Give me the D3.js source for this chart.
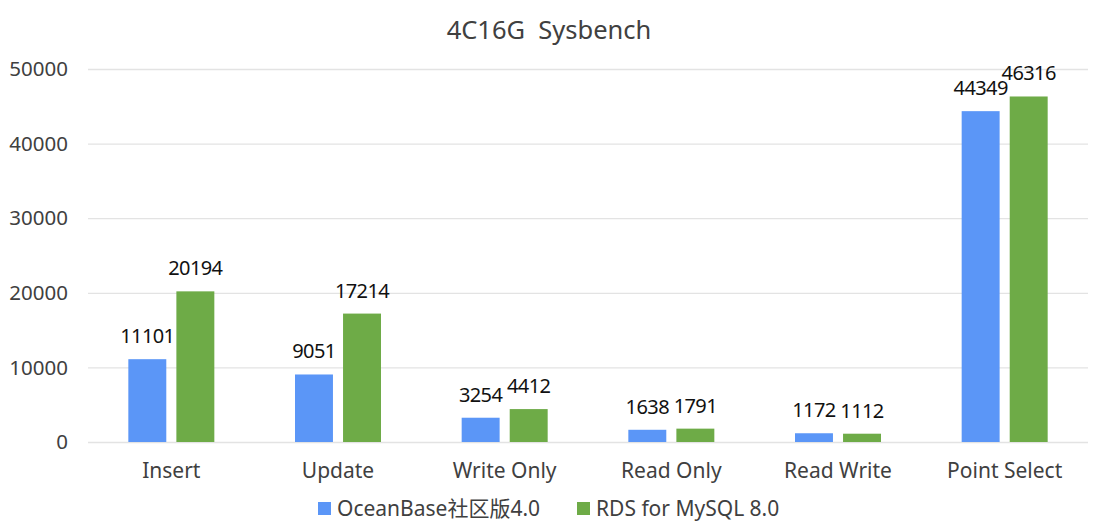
<!DOCTYPE html>
<html>
<head>
<meta charset="utf-8">
<script src="https://cdn.jsdelivr.net/npm/d3@7"></script>
<style>
  body { margin: 0; background: #fff; }
  text { font-family: "Noto Sans", "Noto Sans CJK SC", sans-serif; }
</style>
</head>
<body>
<svg id="vis"></svg>
<script>
const width = 1098;
const height = 529;
const marginLeft = 88;
const marginRight = 10;
const marginTop = 69;
const marginBottom = 87;

const categories = ["Insert", "Update", "Write Only", "Read Only", "Read Write", "Point Select"];
const seriesNames = ["OceanBase社区版4.0", "RDS for MySQL 8.0"];
const oceanBase = [11101, 9051, 3254, 1638, 1172, 44349];
const rdsMysql = [20194, 17214, 4412, 1791, 1112, 46316];
const yTicks = [0, 10000, 20000, 30000, 40000, 50000];
const colours = ["#5b96f7", "#6eab47"];

const svg = d3.select("#vis")
  .attr("width", width)
  .attr("height", height);

const x = d3.scaleBand()
  .domain(categories)
  .range([marginLeft, width - marginRight]);

const xSub = d3.scaleBand()
  .domain([0, 1])
  .range([x.bandwidth() / 2 - 43, x.bandwidth() / 2 + 43])
  .paddingInner(0.21);

const y = d3.scaleLinear()
  .domain([0, 50000])
  .range([height - marginBottom, marginTop]);

// grid
svg.append("g")
  .attr("transform", `translate(${marginLeft},0)`)
  .call(d3.axisLeft(y).tickValues(yTicks).tickSize(-(width - marginLeft - marginRight)).tickFormat(""))
  .call(g => g.select(".domain").remove())
  .call(g => g.selectAll("line").attr("stroke", "#e3e3e3").attr("stroke-width", 1.3));

// y labels
svg.append("g")
  .selectAll("text")
  .data(yTicks)
  .join("text")
  .attr("x", 68)
  .attr("y", d => y(d))
  .attr("dy", "0.35em")
  .attr("text-anchor", "end")
  .attr("font-size", 20.5)
  .attr("fill", "#404040")
  .text(d => d);

// x labels
svg.append("g")
  .selectAll("text")
  .data(categories)
  .join("text")
  .attr("x", d => x(d) + x.bandwidth() / 2)
  .attr("y", 478)
  .attr("text-anchor", "middle")
  .attr("font-size", 21)
  .attr("fill", "#404040")
  .text(d => d);

const rows = categories.map((c, i) => ({ cat: c, values: [oceanBase[i], rdsMysql[i]] }));

const groups = svg.append("g")
  .selectAll("g")
  .data(rows)
  .join("g")
  .attr("transform", d => `translate(${x(d.cat)},0)`);

groups.selectAll("rect")
  .data(d => d.values.map((v, i) => ({ v, i })))
  .join("rect")
  .attr("x", d => xSub(d.i))
  .attr("width", xSub.bandwidth())
  .attr("y", d => y(d.v))
  .attr("height", d => y(0) - y(d.v))
  .attr("fill", d => colours[d.i]);

groups.selectAll("text")
  .data(d => d.values.map((v, i) => ({ v, i })))
  .join("text")
  .attr("x", d => xSub(d.i) + xSub.bandwidth() / 2)
  .attr("y", d => y(d.v) - 16)
  .attr("text-anchor", "middle")
  .attr("font-size", 20)
  .attr("letter-spacing", -0.6)
  .attr("fill", "#111")
  .text(d => d.v);

// title
svg.append("text")
  .attr("x", 549)
  .attr("y", 39)
  .attr("text-anchor", "middle")
  .attr("font-size", 25.5)
  .attr("fill", "#404040")
  .attr("xml:space", "preserve")
  .text("4C16G  Sysbench");

// legend
const legendX = [318, 577];
const legend = svg.append("g")
  .selectAll("g")
  .data(seriesNames)
  .join("g")
  .attr("transform", (d, i) => `translate(${legendX[i]},502)`);

legend.append("rect")
  .attr("width", 13)
  .attr("height", 13)
  .attr("fill", (d, i) => colours[i]);

legend.append("text")
  .attr("x", 19)
  .attr("y", 6.5)
  .attr("dy", "0.35em")
  .attr("font-size", 21)
  .attr("fill", "#404040")
  .text(d => d);
</script>
</body>
</html>
